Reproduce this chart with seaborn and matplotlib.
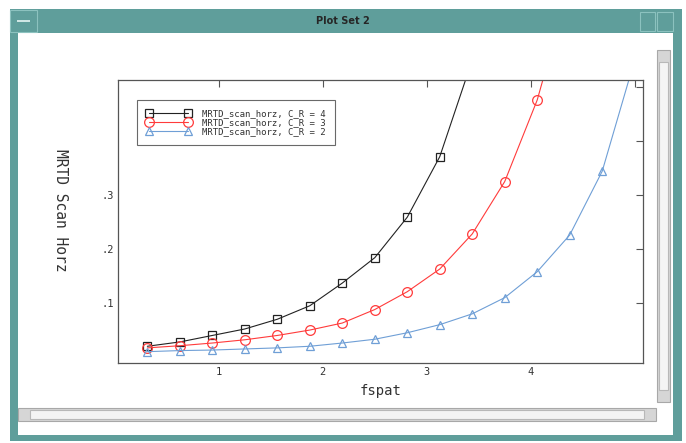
import numpy as np
import pandas as pd
import seaborn as sns
import matplotlib.pyplot as plt
from matplotlib.patches import Rectangle

# spatial frequency samples (step 5/16)
fspat = [0.3125, 0.625, 0.9375, 1.25, 1.5625, 1.875, 2.1875, 2.5,
         2.8125, 3.125, 3.4375, 3.75, 4.0625, 4.375, 4.6875, 5.0]

# last value of each series lies above the visible range (line leaves the top)
mrtd_cr4 = [0.020, 0.028, 0.040, 0.052, 0.070, 0.095, 0.137, 0.184,
            0.259, 0.371, 0.550]
mrtd_cr3 = [0.017, 0.021, 0.026, 0.032, 0.040, 0.050, 0.063, 0.088,
            0.121, 0.163, 0.228, 0.325, 0.476, 0.690]
mrtd_cr2 = [0.010, 0.012, 0.013, 0.015, 0.017, 0.020, 0.026, 0.033,
            0.045, 0.060, 0.080, 0.110, 0.158, 0.226, 0.344, 0.550]

series_names = ["MRTD_scan_horz, C_R = 4",
                "MRTD_scan_horz, C_R = 3",
                "MRTD_scan_horz, C_R = 2"]
series_vals = [mrtd_cr4, mrtd_cr3, mrtd_cr2]
series_colors = ["#222222", "#ff3b3b", "#6f9fd6"]
series_markers = ["s", "o", "^"]
series_msize = [6.2, 7.0, 6.2]

W, H = 686, 443
sns.set_style("white")
plt.rcParams['font.family'] = ['DejaVu Sans Mono', 'DejaVu Sans']

fig = plt.figure(figsize=(W / 100, H / 100), dpi=100)
fig.patch.set_facecolor("white")


def box(x0, y0, x1, y1, fc, ec="none", lw=0.8, z=0):
    # pixel coords (top-left origin) -> figure fraction
    r = Rectangle((x0 / W, 1 - y1 / H), (x1 - x0) / W, (y1 - y0) / H,
                  transform=fig.transFigure, facecolor=fc, edgecolor=ec,
                  linewidth=lw, zorder=z)
    fig.patches.append(r)


teal = "#5f9e9b"
# window frame
box(10, 9, 682, 441, teal)
box(18, 33, 673, 435, "white", z=1)
box(10, 10, 37, 32, "none", ec="#8cc2bf", lw=0.8, z=2)
box(17, 20, 30, 22, "#cfe6e4", z=2)
box(640, 12, 655, 31, "none", ec="#8cc2bf", lw=0.8, z=2)
box(657, 12, 673, 31, "none", ec="#8cc2bf", lw=0.8, z=2)
fig.text(343 / W, 1 - 21 / H, "Plot Set 2", ha="center", va="center",
         fontsize=7, fontweight="bold", family="DejaVu Sans")
# scrollbars
box(657, 50, 670, 402, "#d6d6d6", ec="#a8a8a8", z=2)
box(659, 62, 668, 390, "#f4f4f4", ec="#b8b8b8", z=3)
box(18, 408, 656, 421, "#d6d6d6", ec="#a8a8a8", z=2)
box(30, 410, 644, 419, "#f4f4f4", ec="#b8b8b8", z=3)

# plot area
ax = fig.add_axes([118 / W, 1 - 363 / H, (643 - 118) / W, (363 - 80) / H])
ax.set_zorder(5)

for name, vals, col, mk, ms in zip(series_names, series_vals, series_colors,
                                   series_markers, series_msize):
    df = pd.DataFrame({"fspat": fspat[:len(vals)], "mrtd": vals})
    sns.lineplot(data=df, x="fspat", y="mrtd", ax=ax, color=col, marker=mk,
                 markersize=ms, markerfacecolor="none", markeredgecolor=col,
                 markeredgewidth=0.9, linewidth=0.8, label=name,
                 markevery=list(range(len(vals) - 1)))

ax.set_xlim(0.03, 5.08)
ax.set_ylim(-0.011, 0.513)
ax.set_xticks([1, 2, 3, 4, 5])
ax.set_xticklabels(["1", "2", "3", "4", ""])
ax.set_yticks([0.1, 0.2, 0.3, 0.4, 0.5])
ax.set_yticklabels([".1", ".2", ".3", "", ""])
ax.tick_params(direction="in", length=5, width=0.8, color="#555555",
               top=True, right=True, labelsize=7.5, pad=3, labelcolor="#333333")
for sp in ax.spines.values():
    sp.set_color("#555555")
    sp.set_linewidth(0.9)

ax.set_xlabel("fspat", fontsize=10, color="#333333", labelpad=5)
ax.set_ylabel("MRTD Scan Horz", fontsize=10.5, color="#333333", rotation=-90,
              va="center")
ax.yaxis.set_label_coords(-0.11, 0.54)

leg = ax.legend(loc="upper left", bbox_to_anchor=(0.036, 0.93), fontsize=6.5,
                frameon=True, fancybox=False, edgecolor="#444444",
                handlelength=5.0, numpoints=2, borderpad=1.0,
                labelspacing=0.0, handletextpad=1.2, borderaxespad=0)
leg.get_frame().set_linewidth(0.8)
for t in leg.get_texts():
    t.set_color("#333333")

fig.savefig("out.png", dpi=100)
